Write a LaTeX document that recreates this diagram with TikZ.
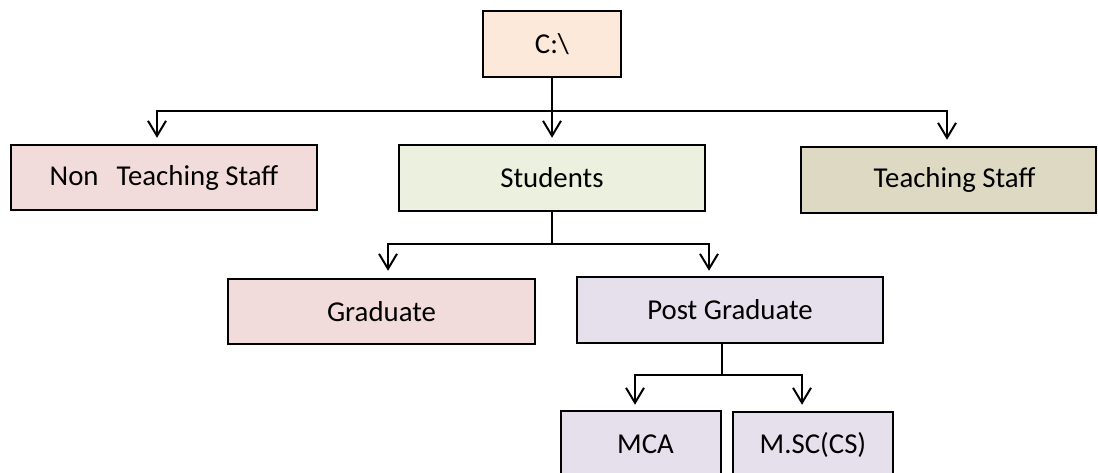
\documentclass[tikz,border=0pt]{standalone}
\usepackage{fontspec}
\setmainfont{Carlito}
\usetikzlibrary{arrows.meta}
\definecolor{peach}{HTML}{FDE9D9}
\definecolor{rose}{HTML}{F2DCDB}
\definecolor{sage}{HTML}{EBF1DE}
\definecolor{khaki}{HTML}{DDD9C3}
\definecolor{lilac}{HTML}{E5E0EC}
\begin{document}
\begin{tikzpicture}[x=1pt,y=-1pt,
  box/.style={draw=black, line width=2.5pt, inner sep=0pt,
    font=\fontsize{28.8}{34}\selectfont},
  link/.style={line width=2pt},
  arr/.style={link, -{Straight Barb[length=15pt,width=18pt,line width=2pt]}}]
\useasboundingbox (0,0) rectangle (1098,472);

% directory tree boxes
\node[box, fill=peach, minimum width=138pt, minimum height=66pt] (root) at (552,44) {C:\textbackslash};
\node[box, fill=rose, minimum width=306pt, minimum height=65pt] (nts) at (164,177.5) {Non\hspace{18pt}Teaching Staff};
\node[box, fill=sage, minimum width=306pt, minimum height=66pt] (students) at (552,178) {Students};
\node[box, fill=khaki, minimum width=295pt, minimum height=66pt] (ts) at (948.5,180) {\hspace*{12pt}Teaching Staff};
\node[box, fill=rose, minimum width=307pt, minimum height=65pt] (graduate) at (381.5,311.5) {Graduate};
\node[box, fill=lilac, minimum width=306pt, minimum height=66pt] (pg) at (730,310) {Post Graduate};
\node[box, fill=lilac, minimum width=160pt, minimum height=66pt] (mca) at (641,444) {\hspace*{9pt}MCA};
\node[box, fill=lilac, minimum width=160pt, minimum height=66pt] (msc) at (813,445) {M.SC(CS)};

% first level
\coordinate (bus1) at (552,111);
\draw[link] (root.south) -- (bus1);
\draw[arr] (bus1) -| ([xshift=-7pt,yshift=6pt]nts.north);
\draw[arr] (bus1) -- ([yshift=6pt]students.north);
\draw[arr] (bus1) -| ([xshift=-1.5pt,yshift=6pt]ts.north);

% second level
\coordinate (bus2) at (552,244);
\draw[link] (students.south) -- (bus2);
\draw[arr] (bus2) -| ([xshift=6.5pt,yshift=7pt]graduate.north);
\draw[arr] (bus2) -| ([xshift=-21pt,yshift=5pt]pg.north);

% third level
\coordinate (bus3) at (722,375);
\draw[link] ([xshift=-8pt]pg.south) -- (bus3);
\draw[arr] (bus3) -| ([xshift=-6pt,yshift=5pt]mca.north);
\draw[arr] (bus3) -| ([xshift=-11pt,yshift=6pt]msc.north);
\end{tikzpicture}
\end{document}
